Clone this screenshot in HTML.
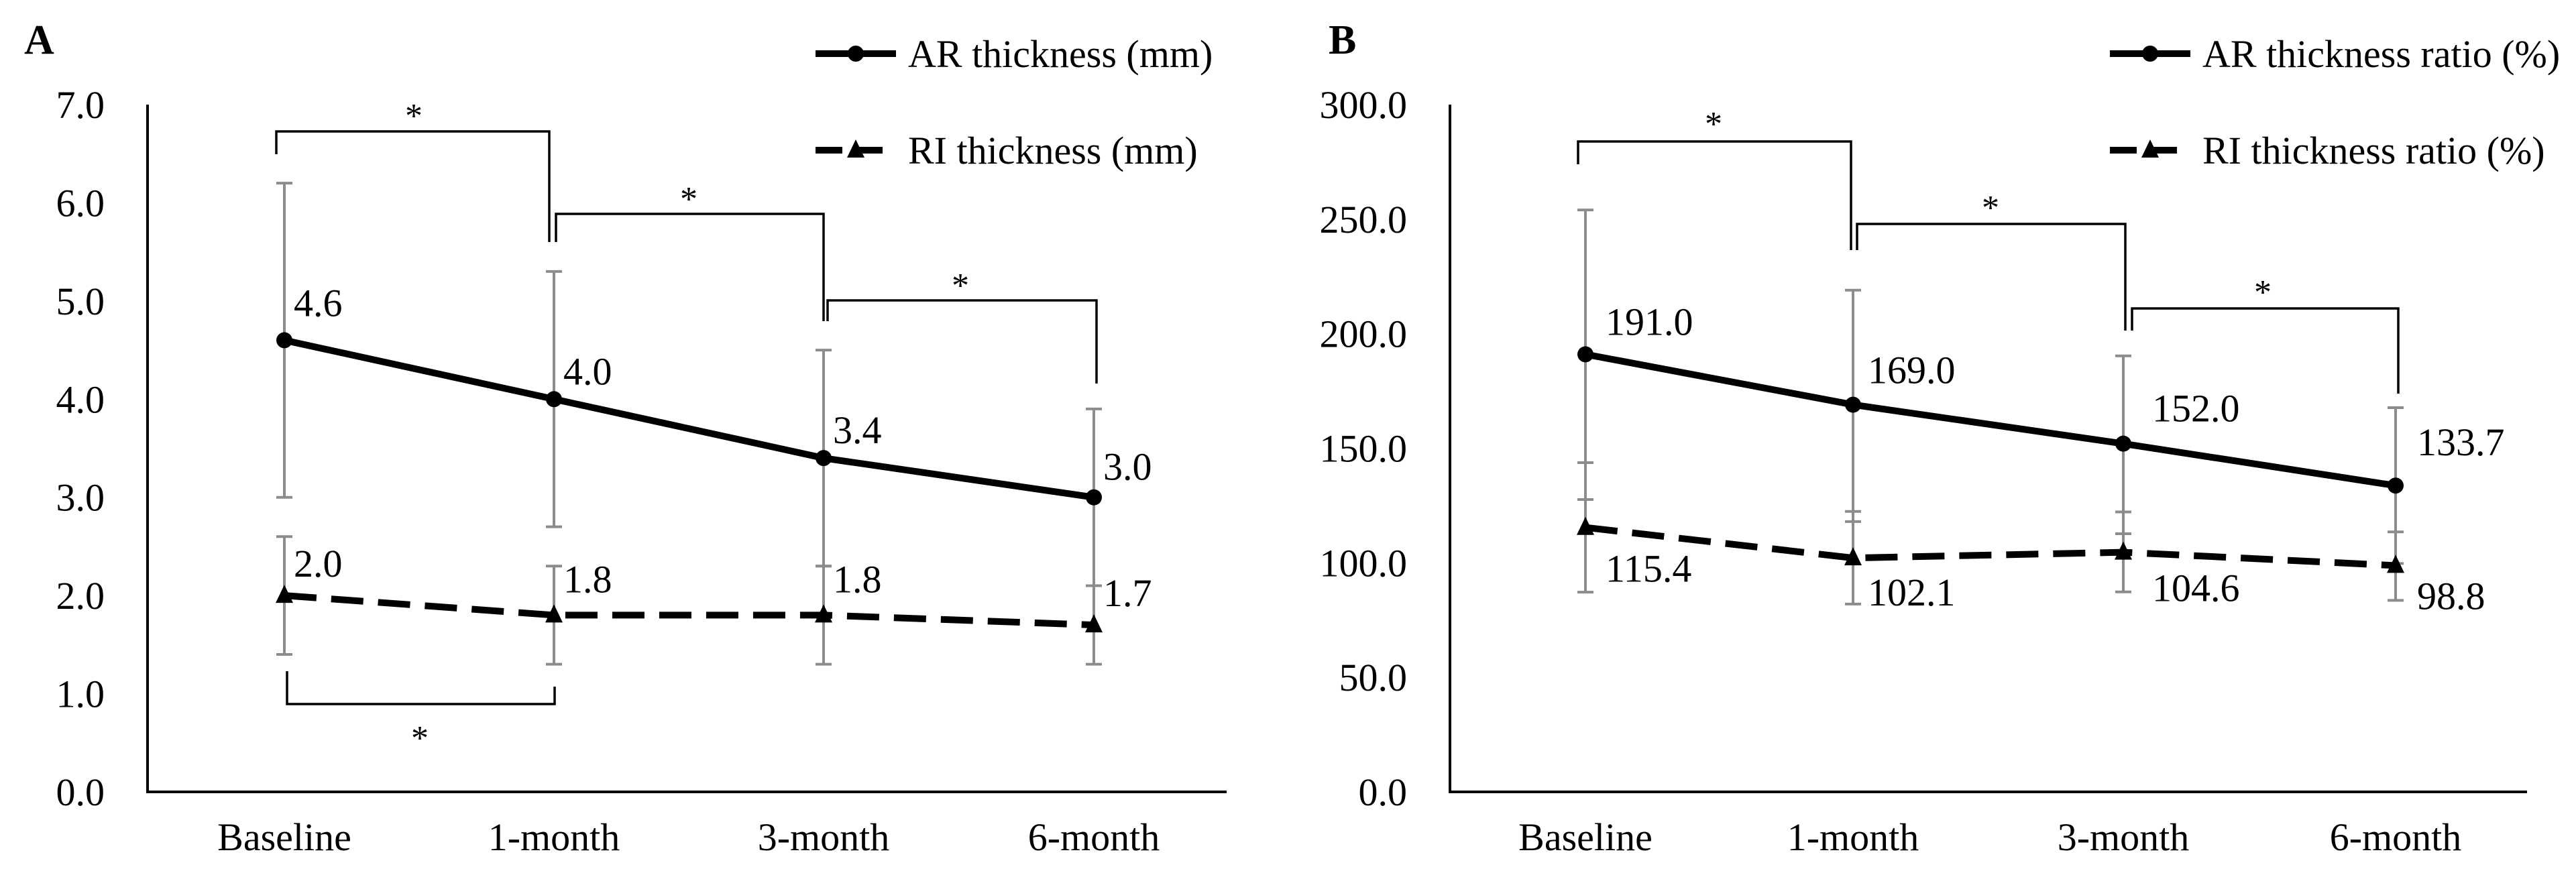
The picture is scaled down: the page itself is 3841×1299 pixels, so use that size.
<!DOCTYPE html>
<html><head><meta charset="utf-8"><style>
html,body{margin:0;padding:0;background:#fff;}
svg{display:block;}
text{font-family:"Liberation Serif",serif;fill:#000;}
</style></head><body>
<svg id="chart" width="3841" height="1299" viewBox="0 0 3841 1299" xmlns="http://www.w3.org/2000/svg"></svg>
<script>
const categories = ["Baseline","1-month","3-month","6-month"];
// Panel A
const aTicks = ["0.0","1.0","2.0","3.0","4.0","5.0","6.0","7.0"];
const aTickVals = [0,1,2,3,4,5,6,7];
const aAR = [4.6,4.0,3.4,3.0];
const aARLabels = ["4.6","4.0","3.4","3.0"];
const aARUpper = [6.2,5.3,4.5,3.9];
const aARLower = [3.0,2.7,2.3,2.1];
const aRI = [2.0,1.8,1.8,1.7];
const aRILabels = ["2.0","1.8","1.8","1.7"];
const aRIUpper = [2.6,2.3,2.3,2.1];
const aRILower = [1.4,1.3,1.3,1.3];
// Panel B
const bTicks = ["0.0","50.0","100.0","150.0","200.0","250.0","300.0"];
const bTickVals = [0,50,100,150,200,250,300];
const bAR = [191.0,169.0,152.0,133.7];
const bARLabels = ["191.0","169.0","152.0","133.7"];
const bARUpper = [254,219,190.3,167.7];
const bARLower = [127.6,118,112.7,99.7];
const bRI = [115.4,102.1,104.6,98.8];
const bRILabels = ["115.4","102.1","104.6","98.8"];
const bRIUpper = [143.7,122.4,122.2,113.5];
const bRILower = [87.2,82,87.3,83.6];

const svg = document.getElementById('chart');
const NS = 'http://www.w3.org/2000/svg';
function mk(tag, attrs, parent){
  const e = document.createElementNS(NS, tag);
  for (const k in attrs) e.setAttribute(k, attrs[k]);
  (parent||svg).appendChild(e);
  return e;
}
function txt(s, attrs, parent){ const t = mk('text', attrs, parent); t.textContent = s; return t; }

function panel(cfg){
  const g = mk('g', {});
  
  
  const y = v => cfg.y0 - (v - 0) / cfg.max * (cfg.y0 - cfg.yTop);
  const x = i => cfg.xs[i];
  // panel letter
  const L = txt(cfg.letter, {x: cfg.letterX, y: 80, 'font-size': 62, 'font-weight': 'bold'}, g);
  
  
  // axes
  const ax = mk('path', {d:`M${cfg.axX} ${cfg.yTop} V${cfg.y0} H${cfg.axEnd}`, stroke:'#000', 'stroke-width':4, fill:'none'}, g);
  
  
  cfg.tickVals.forEach((v,i)=>{
    const t = txt(cfg.ticks[i], {x: cfg.axX - 64, y: y(v) + 20, 'font-size': 58, 'text-anchor':'end'}, g);
    
    
  });
  categories.forEach((c,i)=>{
    const t = txt(c, {x: x(i), y: 1268, 'font-size': 58, 'text-anchor':'middle'}, g);
    
    
  });
  // error bars
  function ebars(up, lo, nm){
    up.forEach((u,i)=>{
      const e = mk('path', {d:`M${x(i)} ${y(u)} V${y(lo[i])} M${x(i)-12} ${y(u)} h24 M${x(i)-12} ${y(lo[i])} h24`, stroke:'#8c8c8c', 'stroke-width':4, fill:'none'}, g);
      
      
    });
  }
  ebars(cfg.arUp, cfg.arLo, 'ar-error-bar');
  ebars(cfg.riUp, cfg.riLo, 'ri-error-bar');
  // brackets
  cfg.brackets.forEach(b=>{
    const p = mk('path', {d:b.d, stroke:'#000', 'stroke-width':3.5, fill:'none'}, g);
    
    
    const s = txt('*', {x:b.sx, y:b.sy, 'font-size':52, 'text-anchor':'middle'}, g);
    
    
  });
  // lines
  const arL = mk('polyline', {points: cfg.ar.map((v,i)=>`${x(i)},${y(v)}`).join(' '), stroke:'#000', 'stroke-width':10, fill:'none'}, g);
  
  
  const riL = mk('polyline', {points: cfg.ri.map((v,i)=>`${x(i)},${y(v)}`).join(' '), stroke:'#000', 'stroke-width':10, fill:'none', 'stroke-dasharray':'48 22'}, g);
  
  
  cfg.ar.forEach((v,i)=>{
    const c = mk('circle', {cx:x(i), cy:y(v), r:12, fill:'#000'}, g);
    
    
    const t = txt(cfg.arLabels[i], {x: x(i) + cfg.arDx[i], y: y(v) + cfg.arDy[i], 'font-size':58}, g);
    
    
  });
  cfg.ri.forEach((v,i)=>{
    const yy = y(v);
    const p = mk('polygon', {points:`${x(i)},${yy-16} ${x(i)-13},${yy+11} ${x(i)+13},${yy+11}`, fill:'#000'}, g);
    
    
    const t = txt(cfg.riLabels[i], {x: x(i) + cfg.riDx[i], y: yy + cfg.riDy[i], 'font-size':58}, g);
    
    
  });
  // legend
  const l1 = mk('g', {}, g);
  
  
  mk('line', {x1:cfg.legX, y1:80, x2:cfg.legX+120, y2:80, stroke:'#000', 'stroke-width':10}, l1);
  mk('circle', {cx:cfg.legX+60, cy:80, r:12, fill:'#000'}, l1);
  txt(cfg.legAR, {x:cfg.legX+138, y:100, 'font-size':58}, l1);
  const l2 = mk('g', {}, g);
  
  
  mk('line', {x1:cfg.legX, y1:224, x2:cfg.legX+120, y2:224, stroke:'#000', 'stroke-width':10, 'stroke-dasharray':'40 20'}, l2);
  mk('polygon', {points:`${cfg.legX+60},${208} ${cfg.legX+47},${235} ${cfg.legX+73},${235}`, fill:'#000'}, l2);
  txt(cfg.legRI, {x:cfg.legX+138, y:244, 'font-size':58}, l2);
}

panel({
  name:'panel-a-chart', letter:'A', letterX:36, axX:220, axEnd:1829, yTop:156, y0:1181, max:7,
  xs:[424,826,1228,1631], ticks:aTicks, tickVals:aTickVals,
  ar:aAR, arLabels:aARLabels, arUp:aARUpper, arLo:aARLower,
  ri:aRI, riLabels:aRILabels, riUp:aRIUpper, riLo:aRILower,
  arDx:[14,14,14,14], arDy:[-36,-22,-22,-26], riDx:[14,14,14,14], riDy:[-28,-34,-34,-28],
  brackets:[
    {d:'M412 230 V196 H819 V361', sx:617, sy:190},
    {d:'M829 361 V319 H1228 V479', sx:1027, sy:314},
    {d:'M1234 479 V448 H1635 V572', sx:1432, sy:443},
    {d:'M428 1001 V1050 H827 V1024', sx:626, sy:1118}
  ],
  legX:1216, legAR:'AR thickness (mm)', legRI:'RI thickness (mm)'
});
panel({
  name:'panel-b-chart', letter:'B', letterX:1981, axX:2162, axEnd:3768, yTop:156, y0:1181, max:300,
  xs:[2364,2763,3166,3572], ticks:bTicks, tickVals:bTickVals,
  ar:bAR, arLabels:bARLabels, arUp:bARUpper, arLo:bARLower,
  ri:bRI, riLabels:bRILabels, riUp:bRIUpper, riLo:bRILower,
  arDx:[30,22,43,32], arDy:[-29,-32,-33,-45], riDx:[30,22,43,32], riDy:[81,71,73,65],
  brackets:[
    {d:'M2353 245 V211 H2760 V373', sx:2555, sy:202},
    {d:'M2769 373 V334 H3169 V493', sx:2968, sy:327},
    {d:'M3179 493 V460 H3576 V587', sx:3374, sy:453}
  ],
  legX:3146, legAR:'AR thickness ratio (%)', legRI:'RI thickness ratio (%)'
});
</script>
</body></html>
